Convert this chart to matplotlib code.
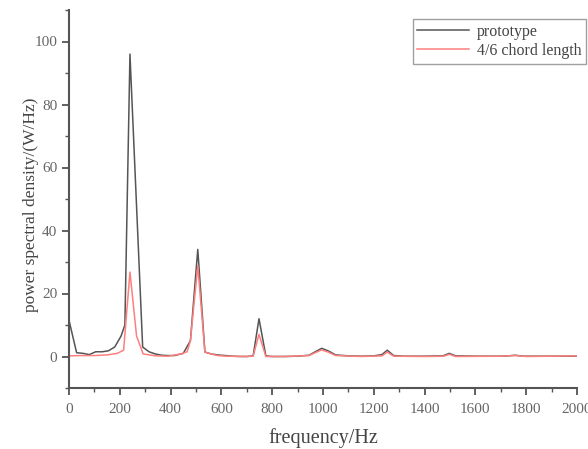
import matplotlib
matplotlib.use("Agg")
import matplotlib.pyplot as plt
from matplotlib.ticker import MultipleLocator

proto_freq = [0, 30, 55, 80, 105, 130, 155, 180, 205, 220, 240, 290, 315, 340, 365, 390, 415,
              450, 478, 507, 535, 560, 585, 615, 645, 675, 700, 725, 748, 775, 800, 850, 900,
              945, 972, 995, 1020, 1050, 1100, 1150, 1200, 1232, 1253, 1278, 1320, 1400, 1472,
              1497, 1522, 1600, 1700, 1730, 1756, 1790, 1900, 2000]
proto_psd = [11.5, 1.2, 1.0, 0.6, 1.5, 1.5, 1.8, 3.0, 6.5, 10.0, 96.0, 3.0, 1.5, 0.8, 0.4, 0.3, 0.3,
             1.0, 5.0, 34.0, 1.4, 0.8, 0.5, 0.3, 0.1, 0.0, 0.0, 0.2, 12.0, 0.2, 0.0, 0.0, 0.1,
             0.4, 1.6, 2.6, 1.8, 0.5, 0.2, 0.1, 0.2, 0.6, 2.0, 0.3, 0.1, 0.1, 0.2,
             1.0, 0.2, 0.1, 0.1, 0.2, 0.4, 0.1, 0.1, 0.1]

chord_freq = [0, 50, 100, 150, 190, 215, 240, 266, 292, 317, 342, 390, 440, 465, 478, 507, 535,
              560, 585, 620, 700, 725, 748, 775, 850, 945, 972, 995, 1020, 1050, 1150, 1232,
              1253, 1278, 1400, 1475, 1497, 1522, 1700, 1756, 1800, 2000]
chord_psd = [0.2, 0.3, 0.3, 0.5, 1.0, 2.0, 26.8, 6.5, 0.8, 0.5, 0.2, 0.1, 0.8, 1.5, 5.0, 28.8, 1.4,
             0.8, 0.3, 0.1, 0.0, 0.1, 7.0, 0.0, 0.0, 0.3, 1.3, 2.1, 1.4, 0.3, 0.0, 0.2,
             1.4, 0.1, 0.0, 0.1, 0.7, 0.0, 0.1, 0.3, 0.0, 0.2]

plt.rcParams['font.family'] = ['Liberation Serif', 'DejaVu Serif']

fig = plt.figure(figsize=(5.88, 4.49), dpi=100)
ax = fig.add_axes([69/588, (449-388)/449, (577-69)/588, (388-10)/449])

ax.plot(proto_freq, proto_psd, color='#555555', lw=1.1, label='prototype')
ax.plot(chord_freq, chord_psd, color='#ff7f7f', lw=1.1, label='4/6 chord length')

ax.set_xlim(0, 2000)
ax.set_ylim(-10, 110)
ax.xaxis.set_major_locator(MultipleLocator(200))
ax.xaxis.set_minor_locator(MultipleLocator(100))
ax.yaxis.set_major_locator(MultipleLocator(20))
ax.yaxis.set_minor_locator(MultipleLocator(10))
ax.set_yticks([0, 20, 40, 60, 80, 100])

for s in ['top', 'right']:
    ax.spines[s].set_visible(False)
for s in ['left', 'bottom']:
    ax.spines[s].set_color('#555555')
    ax.spines[s].set_linewidth(1.5)

ax.tick_params(which='major', direction='out', length=5, width=1.3, color='#555555',
               labelsize=11, labelcolor='#666666')
ax.tick_params(axis='x', which='major', pad=5.5)
ax.tick_params(which='minor', direction='out', length=3, width=1.0, color='#555555')

ax.set_xlabel('frequency/Hz', fontsize=14.5, color='#444444', labelpad=9)
ax.set_ylabel('power spectral density/(W/Hz)', fontsize=12.5, color='#444444')
ax.yaxis.set_label_coords(-0.060, 0.485)

leg = ax.legend(loc='upper right', bbox_to_anchor=(586/588, 1 - 19/449),
                bbox_transform=fig.transFigure, fontsize=11.5, frameon=True, fancybox=False,
                handlelength=3.2, borderpad=0.3, labelspacing=0.2, handletextpad=0.5,
                borderaxespad=0)
leg.get_frame().set_edgecolor('#888888')
leg.get_frame().set_linewidth(1.0)
for t in leg.get_texts():
    t.set_color('#444444')

fig.savefig('out.png', dpi=100)
